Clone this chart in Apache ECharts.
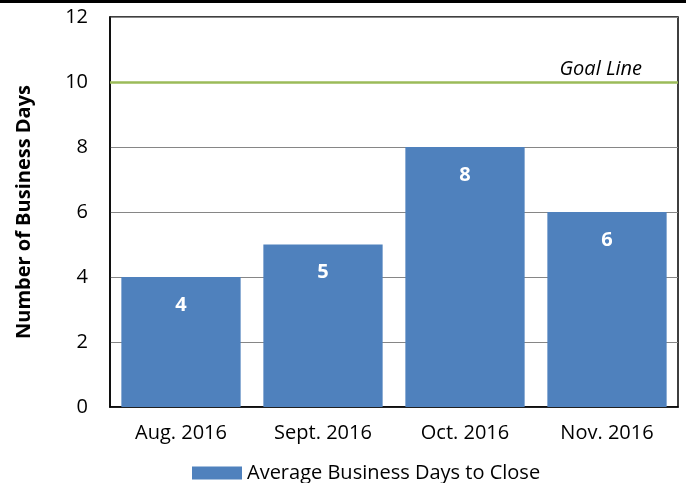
<!DOCTYPE html>
<html><head><meta charset="utf-8">
<script src="https://cdn.jsdelivr.net/npm/echarts@6/dist/echarts.min.js"></script>
<style>html,body{margin:0;padding:0;background:#fff}#c{width:686px;height:483px}</style>
</head><body><div id="c"></div>
<script>
const categories = ['Aug. 2016', 'Sept. 2016', 'Oct. 2016', 'Nov. 2016'];
const values = [4, 5, 8, 6];
const goalValue = 10;
const yTicks = [0, 2, 4, 6, 8, 10, 12];
const seriesName = 'Average Business Days to Close';
const yTitle = 'Number of Business Days';
const goalLabel = 'Goal Line';

const FONT = 'Open Sans';
const FS = 20;
const chart = echarts.init(document.getElementById('c'));
chart.setOption({
  animation: false,
  textStyle: { fontFamily: FONT },
  graphic: [
    { type: 'rect', shape: { x: 0, y: 0, width: 686, height: 3 }, style: { fill: '#000' } }
  ],
  grid: { left: 110, right: 8, top: 17, bottom: 76, show: true, borderColor: '#000', borderWidth: 1.5, backgroundColor: 'transparent' },
  legend: {
    bottom: -5, left: 187, itemWidth: 50, itemHeight: 13, itemGap: 8,
    textStyle: { fontSize: FS, color: '#000', fontFamily: FONT },
    data: [{ name: seriesName, icon: 'rect' }]
  },
  xAxis: {
    type: 'category', data: categories,
    axisLine: { lineStyle: { color: '#000', width: 1.5 } },
    axisTick: { show: false },
    axisLabel: { fontSize: FS, color: '#000', margin: 16, fontFamily: FONT }
  },
  yAxis: {
    type: 'value', min: yTicks[0], max: yTicks[yTicks.length - 1], interval: 2,
    name: yTitle, nameLocation: 'middle', nameGap: 76,
    nameTextStyle: { fontSize: FS, fontWeight: 'bold', color: '#000', fontFamily: FONT },
    axisLine: { show: true, lineStyle: { color: '#000', width: 1.5 } },
    axisTick: { show: false },
    axisLabel: { fontSize: FS, color: '#000', margin: 22, fontFamily: FONT },
    splitLine: { lineStyle: { color: '#868686', width: 1 } }
  },
  series: [{
    name: seriesName, type: 'bar', data: values, barCategoryGap: '16%',
    itemStyle: { color: '#4F81BD' },
    label: { show: true, position: 'insideTop', distance: 18, color: '#fff', fontWeight: 'bold', fontSize: FS, fontFamily: FONT },
    markLine: {
      silent: true, symbol: 'none',
      lineStyle: { color: '#9BBB59', width: 2.5, type: 'solid' },
      label: { show: true, position: 'insideEndTop', formatter: goalLabel, fontStyle: 'italic', fontSize: FS, color: '#000', distance: [36, 3], fontFamily: FONT },
      data: [{ yAxis: goalValue }]
    }
  }]
});
</script></body></html>
